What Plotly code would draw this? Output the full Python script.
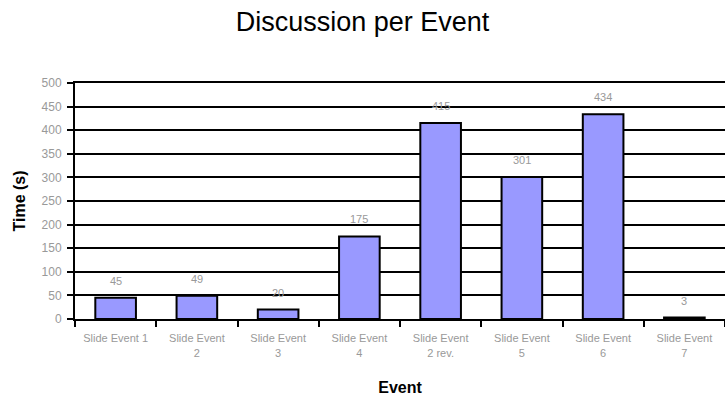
import plotly.graph_objects as go

categories = ["Slide Event 1", "Slide Event<br>2", "Slide Event<br>3", "Slide Event<br>4",
              "Slide Event<br>2 rev.", "Slide Event<br>5", "Slide Event<br>6", "Slide Event<br>7"]
times = [45, 49, 20, 175, 415, 301, 434, 3]
y_ticks = [0, 50, 100, 150, 200, 250, 300, 350, 400, 450, 500]

FONT = "Liberation Sans, Arial, sans-serif"

fig = go.Figure()
fig.add_trace(go.Bar(
    x=categories, y=times,
    marker=dict(color="#9999FF", line=dict(color="black", width=2)),
    width=0.5,
))

for c, v in zip(categories, times):
    fig.add_annotation(x=c, y=v, text=str(v), showarrow=False, yanchor="middle", yshift=17,
                       font=dict(family=FONT, size=11, color="#999999"))

fig.update_layout(
    width=725, height=400,
    margin=dict(l=75, r=0, t=83, b=81),
    paper_bgcolor="white", plot_bgcolor="white",
    showlegend=False,
    title=dict(text="Discussion per Event", x=0.5, xanchor="center", y=1 - 22 / 400,
               yanchor="middle", yref="container",
               font=dict(family=FONT, size=27, color="black")),
    xaxis=dict(
        type="category",
        showline=True, linecolor="black", linewidth=2, mirror=True,
        ticks="outside", tickson="boundaries", ticklen=6, tickwidth=2, tickcolor="black",
        ticklabelstandoff=8,
        tickfont=dict(family=FONT, size=11, color="#999999"),
        title=dict(text="<b>Event</b>", font=dict(family=FONT, size=16, color="black"), standoff=24),
        automargin=False,
    ),
    yaxis=dict(
        range=[0, 500], tickvals=y_ticks,
        showline=True, linecolor="black", linewidth=2,
        showgrid=True, gridcolor="black", gridwidth=2,
        zeroline=False,
        ticks="outside", ticklen=6, tickwidth=2, tickcolor="black",
        ticklabelstandoff=3,
        tickfont=dict(family=FONT, size=12, color="#999999"),
        title=dict(text="<b>Time (s)</b>", font=dict(family=FONT, size=16, color="black"), standoff=12),
        automargin=False,
    ),
)

fig.write_html("out.html")
